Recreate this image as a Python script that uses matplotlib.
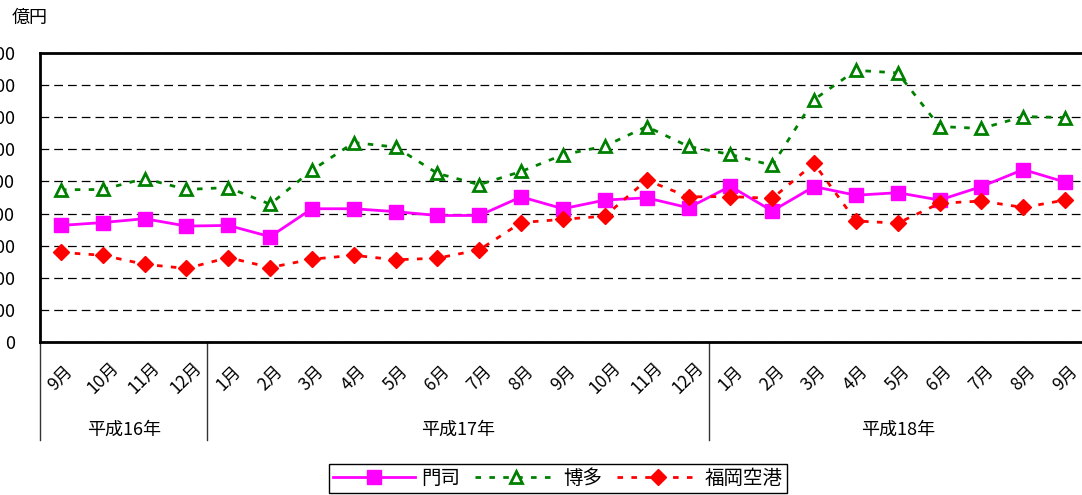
import matplotlib.pyplot as plt
from matplotlib.transforms import blended_transform_factory

plt.rcParams['font.family'] = ['Noto Sans CJK JP', 'DejaVu Sans']

months = ['9月', '10月', '11月', '12月',
          '1月', '2月', '3月', '4月', '5月', '6月', '7月', '8月', '9月', '10月', '11月', '12月',
          '1月', '2月', '3月', '4月', '5月', '6月', '7月', '8月', '9月']
years = ['平成16年', '平成17年', '平成18年']
year_spans = [(0, 4), (4, 16), (16, 25)]

moji = [363, 372, 384, 361, 363, 328, 415, 415, 406, 394, 394, 452, 415, 442, 449, 418,
        485, 408, 484, 457, 465, 442, 484, 537, 498]
hakata = [474, 475, 509, 475, 481, 429, 535, 621, 607, 525, 490, 531, 583, 610, 671, 609,
          584, 550, 755, 846, 838, 671, 665, 702, 699]
fukuoka_airport = [279, 270, 242, 229, 263, 232, 258, 270, 256, 261, 287, 372, 382, 392, 504, 452,
                   453, 447, 556, 377, 370, 432, 439, 419, 442]

yticks = list(range(0, 1000, 100))

fig = plt.figure(figsize=(10.82, 4.95), dpi=100)
ax = fig.add_axes([40 / 1082, 1 - 342 / 495, 1046 / 1082, 289 / 495])

x = list(range(len(months)))
ax.plot(x, moji, color='#FF00FF', lw=2, marker='s', markersize=10,
        markerfacecolor='#FF00FF', markeredgecolor='#FF00FF', label='門司', zorder=3)
ax.plot(x, hakata, color='#008000', lw=2, linestyle=(0, (2, 3)), marker='^', markersize=9,
        markerfacecolor='white', markeredgecolor='#008000', markeredgewidth=2, label='博多', zorder=3)
ax.plot(x, fukuoka_airport, color='#FF0000', lw=2, linestyle=(0, (2, 3)), marker='D', markersize=8,
        markerfacecolor='#FF0000', markeredgecolor='#FF0000', label='福岡空港', zorder=3)

ax.set_xlim(-0.5, len(months) - 0.5)
ax.set_ylim(0, 900)
ax.set_yticks(yticks)
ax.set_yticklabels([str(v) for v in yticks], fontsize=13)
ax.tick_params(axis='y', length=0, pad=18)
ax.set_xticks([])
ax.grid(axis='y', color='black', linestyle=(0, (7, 4)), lw=0.9)
for side in ['left', 'bottom', 'top', 'right']:
    ax.spines[side].set_linewidth(2)
    ax.spines[side].set_color('black')

trans = blended_transform_factory(ax.transData, ax.transAxes)
for i, m in enumerate(months):
    ax.text(i, -0.125, m, transform=trans, rotation=45, ha='center', va='center',
            fontsize=12.5)
for (s, e), yr in zip(year_spans, years):
    ax.text((s + e - 1) / 2, -0.305, yr, transform=trans, ha='center', va='center', fontsize=13)
for b in [0, 4, 16]:
    ax.plot([b - 0.5, b - 0.5], [0, -0.34], transform=trans, color='#333333', lw=1,
            clip_on=False)

fig.text(12 / 1082, 1 - 18 / 495, '億円', fontsize=13, ha='left', va='center')

leg = fig.legend(loc='upper center', bbox_to_anchor=(558 / 1082, 1 - 464 / 495), ncol=3,
                 fontsize=14, handlelength=4.2, handletextpad=0.3, columnspacing=0.8,
                 fancybox=False, edgecolor='black', framealpha=1, borderpad=0.2,
                 borderaxespad=0)
leg.get_frame().set_linewidth(1)

fig.savefig('out.png', dpi=100)
